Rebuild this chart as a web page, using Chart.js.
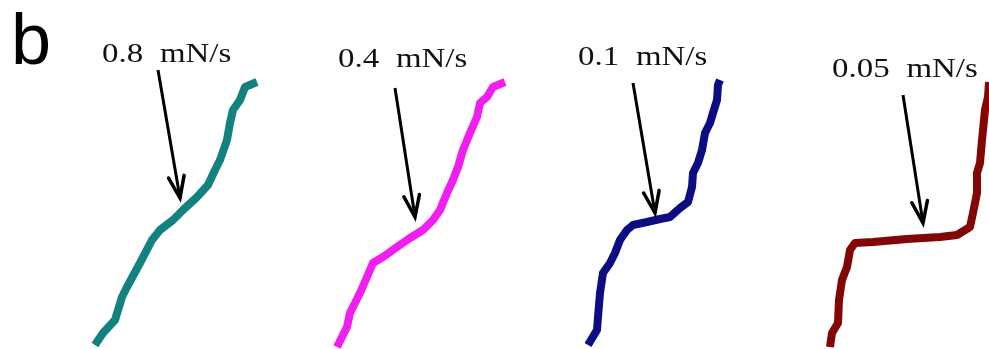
<!DOCTYPE html>
<html>
<head>
<meta charset="utf-8">
<script src="https://cdn.jsdelivr.net/npm/chart.js@4"></script>
<style>
  body { margin: 0; background: #fff; }
  #wrap { width: 989px; height: 349px; }
</style>
</head>
<body>
<div id="wrap"><canvas id="traces"></canvas></div>
<script>
// Traces (x, y in figure units, y grows downward)
const trace08 = [[95,345],[103,333],[115,320],[122,297],[127,287],[140,263],[152,240],[160,230],[173,220],[183,210],[197,197],[208,185],[215,170],[220,160],[227,140],[230,123],[233,110],[240,100],[245,87],[257,82]];
const trace04 = [[337,347],[347,327],[350,313],[360,293],[367,277],[373,263],[383,257],[397,247],[410,238],[423,230],[433,220],[440,210],[447,193],[453,180],[458,167],[463,150],[470,133],[477,117],[480,103],[487,97],[493,87],[505,82]];
const trace01 = [[588,345],[597,330],[598,317],[600,293],[603,273],[610,263],[615,253],[620,240],[627,230],[633,225],[647,222],[660,219],[670,217],[680,208],[688,202],[692,187],[693,173],[698,163],[702,150],[705,133],[710,123],[713,113],[717,100],[718,85],[720,80]];
const trace005 = [[830,347],[832,333],[838,323],[839,300],[842,280],[847,267],[850,250],[855,243],[873,242],[907,239],[940,237],[957,235],[970,227],[973,213],[977,193],[977,173],[980,163],[982,140],[983,130],[985,110],[988,97],[989,82]];

const rateLabels = ['0.8 mN/s', '0.4 mN/s', '0.1 mN/s', '0.05 mN/s'];
// arrow start / tip for each rate
const arrows = [
    [[158,70],[180,198]],
    [[395,88],[415,217]],
    [[633,83],[655,213]],
    [[903,95],[923,223]]
];

const traceColors = ['#12817f', '#f01ff0', '#0d0d82', '#820606'];
const labelPos = [[102,62],[338,67],[578,65],[832,77]];

const serifFont = '27px "Liberation Serif"';
const sansFont = '72px "Liberation Sans"';

function pts(arr) {
    return arr.map(p => ({ x: p[0], y: p[1] }));
}

const traceSets = [trace08, trace04, trace01, trace005].map((t, i) => ({
    label: rateLabels[i],
    data: pts(t),
    borderColor: traceColors[i],
    borderWidth: 8,
    pointRadius: 0,
    tension: 0,
    borderJoinStyle: 'round',
    borderCapStyle: 'butt'
}));

const arrowSets = arrows.map(a => ({
    label: 'arrow',
    data: pts(a),
    borderColor: '#000',
    borderWidth: 3,
    pointRadius: 0,
    tension: 0
}));

// Arrowheads, rate labels and panel letter
const annotate = {
    id: 'annotate',
    afterDatasetsDraw(chart) {
        const ctx = chart.ctx;
        const xs = chart.scales.x, ys = chart.scales.y;
        ctx.save();
        ctx.strokeStyle = '#000';
        ctx.lineWidth = 3.5;
        ctx.lineCap = 'round';
        arrows.forEach(a => {
            const x0 = xs.getPixelForValue(a[0][0]), y0 = ys.getPixelForValue(a[0][1]);
            const x1 = xs.getPixelForValue(a[1][0]), y1 = ys.getPixelForValue(a[1][1]);
            const ang = Math.atan2(y0 - y1, x0 - x1);
            const len = 23, spread = 20 * Math.PI / 180;
            ctx.beginPath();
            ctx.moveTo(x1 + len * Math.cos(ang - spread), y1 + len * Math.sin(ang - spread));
            ctx.lineTo(x1, y1);
            ctx.lineTo(x1 + len * Math.cos(ang + spread), y1 + len * Math.sin(ang + spread));
            ctx.stroke();
        });

        ctx.fillStyle = '#111';
        ctx.font = serifFont;
        ctx.textBaseline = 'alphabetic';
        ctx.wordSpacing = '7px';
        rateLabels.forEach((t, i) => {
            const px = xs.getPixelForValue(labelPos[i][0]);
            const py = ys.getPixelForValue(labelPos[i][1]);
            ctx.save();
            ctx.translate(px, py);
            ctx.scale(1.22, 1);
            ctx.fillText(t, 0, 0);
            ctx.restore();
        });

        ctx.wordSpacing = '0px';
        ctx.fillStyle = '#000';
        ctx.font = sansFont;
        ctx.fillText('b', 11, 64);
        ctx.restore();
    }
};

function draw() {
    new Chart(document.getElementById('traces'), {
        type: 'line',
        data: { datasets: traceSets.concat(arrowSets) },
        options: {
            responsive: true,
            maintainAspectRatio: false,
            animation: false,
            layout: { padding: 0 },
            plugins: { legend: { display: false }, tooltip: { enabled: false } },
            scales: {
                x: { type: 'linear', min: 0, max: 989, display: false },
                y: { type: 'linear', min: 0, max: 349, reverse: true, display: false }
            }
        },
        plugins: [annotate]
    });
}

Promise.all([document.fonts.load(serifFont), document.fonts.load(sansFont)])
    .then(draw, draw);
</script>
</body>
</html>
